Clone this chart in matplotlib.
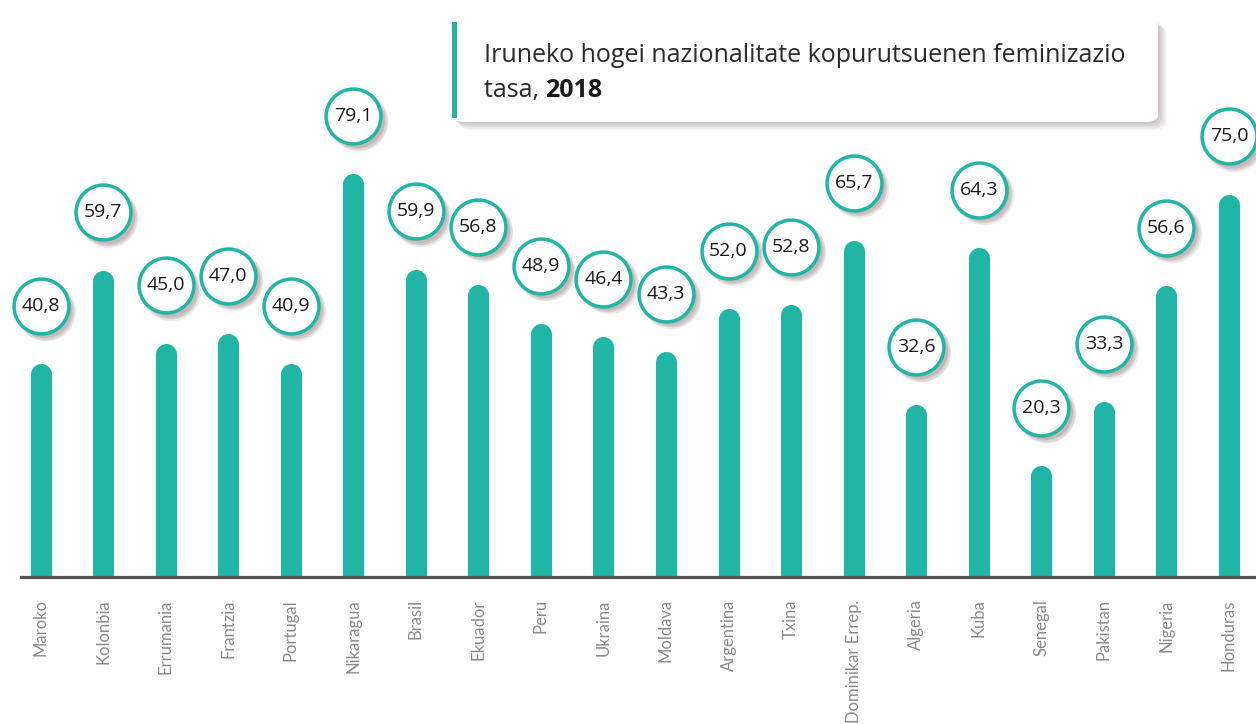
import matplotlib
matplotlib.use("Agg")
import matplotlib.pyplot as plt
from matplotlib.patches import FancyBboxPatch, Rectangle
from matplotlib.transforms import offset_copy

# ---------------- data ----------------
herriak = ["Maroko", "Kolonbia", "Errumania", "Frantzia", "Portugal",
           "Nikaragua", "Brasil", "Ekuador", "Peru", "Ukraina",
           "Moldava", "Argentina", "Txina", "Dominikar Errep.", "Algeria",
           "Kuba", "Senegal", "Pakistan", "Nigeria", "Honduras"]
tasa = [40.8, 59.7, 45.0, 47.0, 40.9,
        79.1, 59.9, 56.8, 48.9, 46.4,
        43.3, 52.0, 52.8, 65.7, 32.6,
        64.3, 20.3, 33.3, 56.6, 75.0]
izenburua = "Iruneko hogei nazionalitate kopurutsuenen feminizazio"
urtea = "2018"

# ---------------- styles ----------------
teal = "#20b5a5"
W, H = 1256, 724
fig = plt.figure(figsize=(W / 100, H / 100), dpi=100)
fig.patch.set_facecolor("white")

# axes in pixel geometry: baseline at y=577, first bar at x=40.5, step 62.55
base = 577
step = 62.55
x0 = 40.5
ax = fig.add_axes([0, (H - base) / H, 1, base / H])
ax.set_xlim(-x0 / step, (W - x0) / step)
ax.set_ylim(0, base / 4.966)
for s in ax.spines.values():
    s.set_visible(False)
ax.set_yticks([])

# bars with round tops
for i, v in enumerate(tasa):
    ax.plot([i, i], [0, v], color=teal, lw=15.2, solid_capstyle="round", zorder=2)

ax.axhline(0, xmin=21 / W, xmax=1, color="#555555", lw=2.3, clip_on=False, zorder=3)

ax.set_xticks(range(len(herriak)))
ax.set_xticklabels(herriak, rotation=90, va="top", ha="center",
                   fontsize=12, color="#8a8a8a", family="Lato")
ax.tick_params(axis="x", length=0, pad=16)

# value bubbles
xs = list(range(len(tasa)))
lift = 49
size = 1560
circ = offset_copy(ax.transData, fig=fig, x=0, y=lift, units="points")
for k in range(4):
    sh = offset_copy(ax.transData, fig=fig, x=2.5 + k * 0.4, y=lift - 2.5 - k * 0.4, units="points")
    ax.scatter(xs, tasa, s=size + k * 90, color="#5a3b3b", alpha=0.10,
               linewidths=0, transform=sh, zorder=4, clip_on=False)
ax.scatter(xs, tasa, s=size, facecolor="white", edgecolor=teal, linewidths=2.5,
           transform=circ, zorder=5, clip_on=False)
for i, v in enumerate(tasa):
    ax.text(i, v, f"{v:.1f}".replace(".", ","), transform=circ, ha="center", va="center",
            fontsize=14, family="Open Sans", color="#1a1a1a", zorder=6)

# title box
bx0, bx1, by0, by1 = 452, 1158, 18, 122
for k in range(5):
    d = 2 + k * 1.5
    shadow = FancyBboxPatch(((bx0 + d) / W, (H - by1 - d) / H), (bx1 - bx0) / W, (by1 - by0) / H,
                            boxstyle="round,pad=0,rounding_size=0.01",
                            transform=fig.transFigure, facecolor="#6b5a5a", alpha=0.07,
                            edgecolor="none", zorder=1)
    fig.patches.append(shadow)
box = FancyBboxPatch((bx0 / W, (H - by1) / H), (bx1 - bx0) / W, (by1 - by0) / H,
                     boxstyle="round,pad=0,rounding_size=0.01",
                     transform=fig.transFigure, facecolor="white", edgecolor="none", zorder=2)
fig.patches.append(box)
fig.patches.append(Rectangle((bx0 / W, (H - by1 + 4) / H), 5 / W, (by1 - by0 - 8) / H,
                             transform=fig.transFigure, facecolor=teal, edgecolor="none", zorder=3))
fs = 18
fig.text(484 / W, (H - 62) / H, izenburua, fontsize=fs, family="Open Sans",
         color="#2b2b2b", va="baseline", ha="left", zorder=4)
t = fig.text(484 / W, (H - 97) / H, "tasa, ", fontsize=fs, family="Open Sans",
             color="#2b2b2b", va="baseline", ha="left", zorder=4)
fig.canvas.draw()
bb = t.get_window_extent()
fig.text(bb.x1 / W, (H - 97) / H, urtea, fontsize=fs, family="Open Sans", fontweight="bold",
         color="#1a1a1a", va="baseline", ha="left", zorder=4)

fig.savefig("out.png", dpi=100)
